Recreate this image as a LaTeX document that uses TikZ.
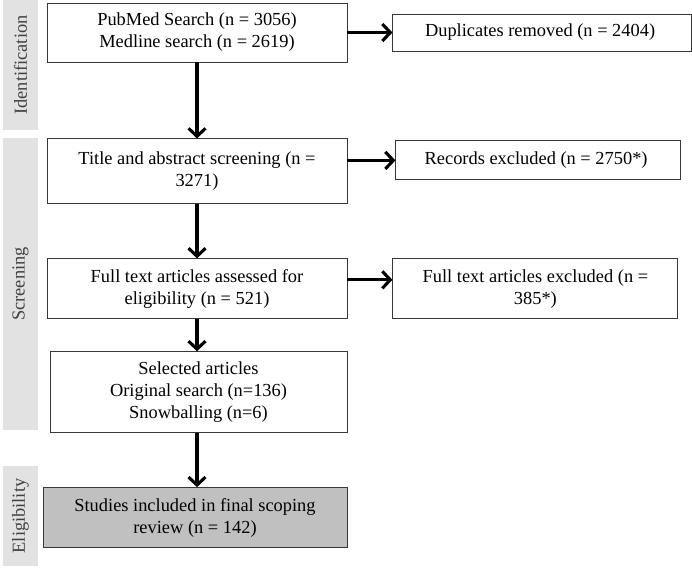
\documentclass[tikz,border=0pt]{standalone}
\usepackage{fontspec}
\setmainfont{Liberation Serif}
\usepackage{xcolor}
\usepackage{tikz}
\usetikzlibrary{arrows.meta, positioning}
\definecolor{stagebar}{RGB}{226,226,226}
\definecolor{stagetext}{RGB}{64,64,64}
\definecolor{boxline}{RGB}{55,55,55}
\definecolor{finalfill}{RGB}{192,192,192}
\tikzstyle{stepbox} = [rectangle, draw=boxline, line width=0.9pt, align=center, inner sep=2pt, font=\fontsize{18.4}{22}\selectfont]
\tikzstyle{stage} = [rectangle, fill=stagebar, minimum height=35pt, inner sep=0pt, rotate=90, text=stagetext, font=\fontsize{18.4}{20}\selectfont]
\tikzstyle{arrow} = [line width=3.1pt, -{Straight Barb[length=8pt, width=17pt]}]

\begin{document}
\begin{tikzpicture}
\useasboundingbox (0,0) rectangle (692pt,-568pt);

% Stage labels on the left
\node[stage, minimum width=130pt] (ident) at (20.5pt,-65pt) {Identification};
\node[stage, minimum width=292pt] (screen) at (20.5pt,-284pt) {Screening};
\node[stage, minimum width=100pt] (elig) at (20.5pt,-516pt) {Eligibility};

% Main column
\node[stepbox, minimum width=300pt, minimum height=59pt] (search) at (197pt,-32.5pt) {
    PubMed Search (n = 3056)\\Medline search (n = 2619)
};
\node[stepbox, minimum width=300pt, minimum height=65pt, below=76pt of search] (title) {
    Title and abstract screening (n =\\3271)
};
\node[stepbox, minimum width=300pt, minimum height=60pt, below=54pt of title] (full) {
    Full text articles assessed for\\eligibility (n = 521)
};
\node[stepbox, minimum width=297pt, minimum height=81pt, below=32pt of full, xshift=1.5pt] (selected) {
    Selected articles\\Original search (n=136)\\Snowballing (n=6)
};
\node[stepbox, fill=finalfill, minimum width=304pt, minimum height=60pt, below=54pt of selected, xshift=-3.5pt] (included) {
    Studies included in final scoping\\review (n = 142)
};

% Excluded boxes
\node[stepbox, minimum width=299pt, minimum height=37pt, right=45pt of search] (dup) {
    Duplicates removed (n = 2404)
};
\node[stepbox, minimum width=285pt, minimum height=39pt, right=48pt of title, yshift=11pt] (rec) {
    Records excluded (n = 2750*)
};
\node[stepbox, minimum width=285pt, minimum height=60pt, right=45pt of full] (fullex) {
    Full text articles excluded (n =\\385*)
};

% Arrows
\draw[arrow] (search.south) -- (title.north);
\draw[arrow] (title.south) -- (full.north);
\draw[arrow] (full.south) -- (full.south |- selected.north);
\draw[arrow] (selected.south -| full.south) -- (full.south |- included.north);
\draw[arrow] (search.east) -- (search.east -| dup.west);
\draw[arrow] (rec.west -| title.east) -- (rec.west);
\draw[arrow] ([yshift=9pt]full.east) -- ([yshift=9pt]fullex.west);

\end{tikzpicture}
\end{document}
